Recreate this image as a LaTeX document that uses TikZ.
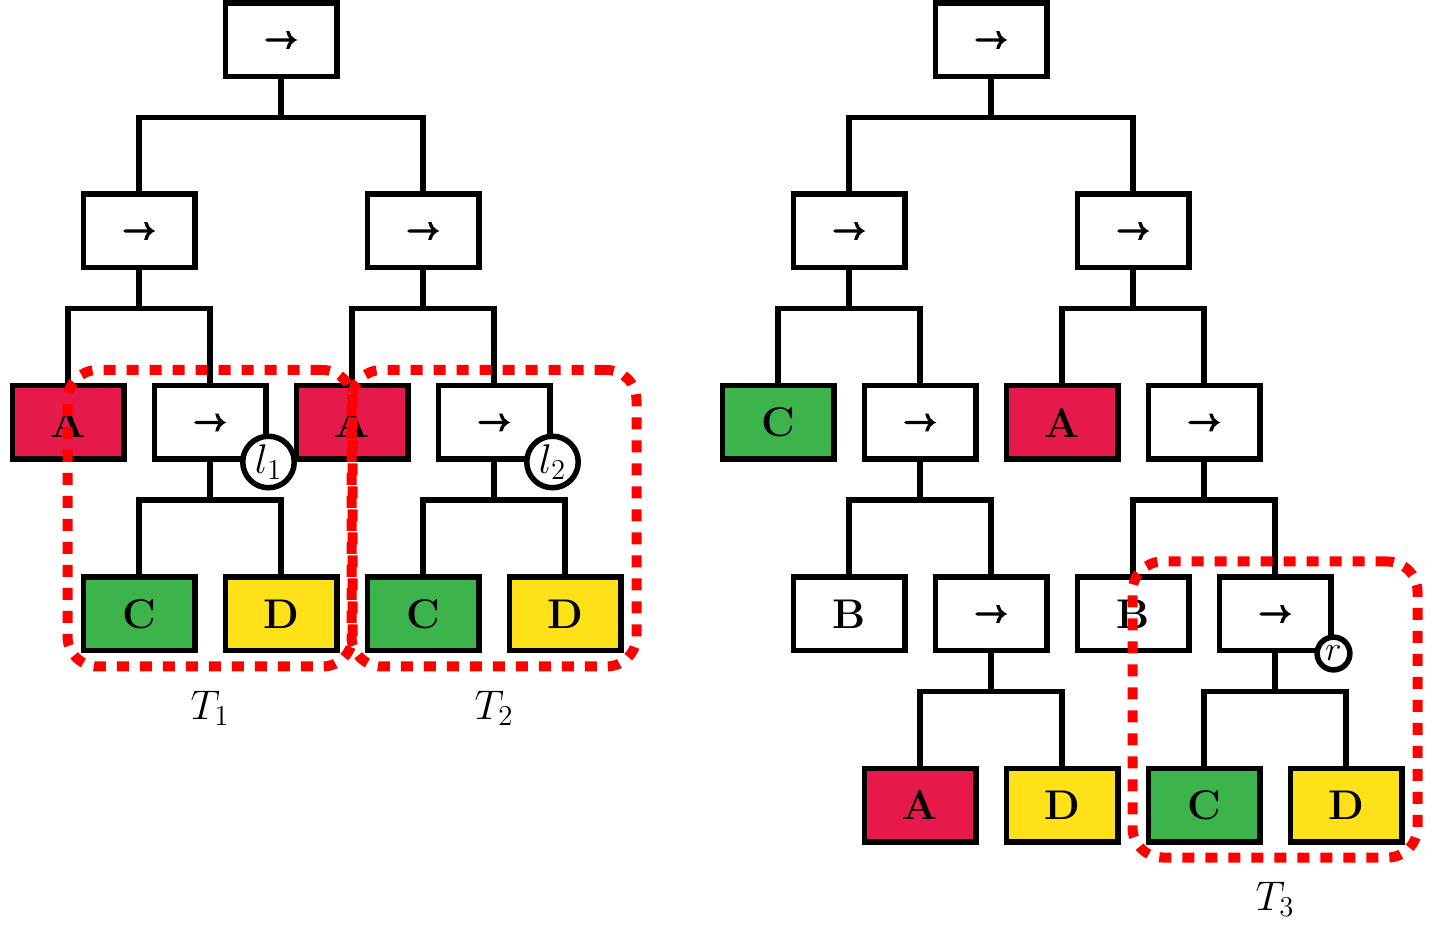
\documentclass[tikz,border=0pt]{standalone}
\usetikzlibrary{calc,fit}
\definecolor{leafred}{HTML}{E6194B}
\definecolor{leafgreen}{HTML}{3CB44B}
\definecolor{leafyellow}{HTML}{FFE119}
% heavy right arrow for sequence nodes
\font\seqarrowfont="[lmroman10-regular.otf]:embolden=6" at 16pt
\newcommand\seqarrow{{\seqarrowfont\char"2192}}
% elbow connector: parent #1 to children #2 and #3
\newcommand\treebranch[3]{%
  \draw[conn] (#2.north) |- ($(#1.center)+(0,77.5)$) -| (#3.north);
  \draw[conn] (#1.south) -- ($(#1.center)+(0,77.5)$);
}
\begin{document}
\begin{tikzpicture}[x=0.5pt,y=-0.5pt,
  every node/.style={font=\huge},
  box/.style={draw,line width=2.75pt,minimum width=55.75pt,minimum height=36.75pt,
    inner sep=0pt,fill=white,font=\huge\bfseries},
  seqbox/.style={box},
  redleaf/.style={box,fill=leafred},
  greenleaf/.style={box,fill=leafgreen},
  yellowleaf/.style={box,fill=leafyellow},
  conn/.style={line width=2.75pt},
  tag/.style={circle,draw,fill=white,line width=2.75pt,inner sep=0pt},
  region/.style={draw=red,line width=5pt,dash pattern=on 6pt off 5.5pt,
    rounded corners=15pt,inner sep=6.5pt}
]
\useasboundingbox (0,0) rectangle (1432,925);

% ---------- left tree ----------
\node[seqbox] (L0) at (281,40) {\seqarrow};
\node[seqbox] (L1a) at (139,231) {\seqarrow};
\node[seqbox] (L1b) at (423,231) {\seqarrow};
\node[redleaf] (L2a) at (68,422.5) {A};
\node[seqbox] (L2b) at (210,422.5) {\seqarrow};
\node[redleaf] (L2c) at (352,422.5) {A};
\node[seqbox] (L2d) at (494,422.5) {\seqarrow};
\node[greenleaf] (L3a) at (139,614) {C};
\node[yellowleaf] (L3b) at (281,614) {D};
\node[greenleaf] (L3c) at (423,614) {C};
\node[yellowleaf] (L3d) at (565,614) {D};

\treebranch{L0}{L1a}{L1b}
\treebranch{L1a}{L2a}{L2b}
\treebranch{L1b}{L2c}{L2d}
\treebranch{L2b}{L3a}{L3b}
\treebranch{L2d}{L3c}{L3d}

\node[tag,minimum size=25.75pt] (l1) at (L2b.south east) {$l_1$};
\node[tag,minimum size=25.75pt] (l2) at (L2d.south east) {$l_2$};

% ---------- right tree ----------
\node[seqbox] (R0) at (991,40) {\seqarrow};
\node[seqbox] (R1a) at (849,231) {\seqarrow};
\node[seqbox] (R1b) at (1133,231) {\seqarrow};
\node[greenleaf] (R2a) at (778,422.5) {C};
\node[seqbox] (R2b) at (920,422.5) {\seqarrow};
\node[redleaf] (R2c) at (1062,422.5) {A};
\node[seqbox] (R2d) at (1204,422.5) {\seqarrow};
\node[box] (R3a) at (849,614) {B};
\node[seqbox] (R3b) at (991,614) {\seqarrow};
\node[box] (R3c) at (1133,614) {B};
\node[seqbox] (R3d) at (1275,614) {\seqarrow};
\node[redleaf] (R4a) at (920,805) {A};
\node[yellowleaf] (R4b) at (1062,805) {D};
\node[greenleaf] (R4c) at (1204,805) {C};
\node[yellowleaf] (R4d) at (1346,805) {D};

\treebranch{R0}{R1a}{R1b}
\treebranch{R1a}{R2a}{R2b}
\treebranch{R1b}{R2c}{R2d}
\treebranch{R2b}{R3a}{R3b}
\treebranch{R2d}{R3c}{R3d}
\treebranch{R3b}{R4a}{R4b}
\treebranch{R3d}{R4c}{R4d}

\node[tag,minimum size=16.4pt,font=\LARGE] (rr) at (R3d.south east) {$r$};

% ---------- highlighted subtrees ----------
\node[region,fit=(L2b)(L3a)(L3b)] (T1box) {};
\node[region,fit=(L2d)(L3c)(L3d)] (T2box) {};
\node[region,fit=(R3d)(R4c)(R4d)] (T3box) {};
\node[anchor=base] (T1lab) at ($(T1box.south)+(0,48)$) {$T_1$};
\node[anchor=base] (T2lab) at ($(T2box.south)+(0,48)$) {$T_2$};
\node[anchor=base] (T3lab) at ($(T3box.south)+(0,48)$) {$T_3$};
\end{tikzpicture}
\end{document}
